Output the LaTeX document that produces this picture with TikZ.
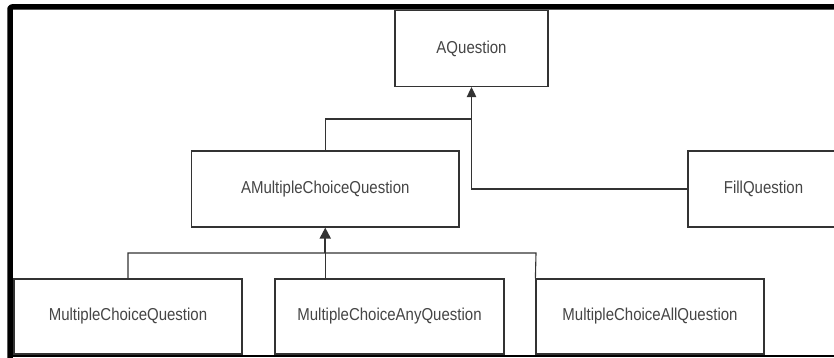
\documentclass[tikz,border=0pt]{standalone}
\usepackage{fontspec}
\usepackage{graphicx}
\setmainfont{Liberation Sans}
\usetikzlibrary{arrows.meta}
\definecolor{boxline}{HTML}{333333}
\definecolor{txt}{HTML}{454545}
\newcommand\clslabel[1]{\scalebox{1}[1.15]{#1}}
\tikzset{
  cls/.style={draw=boxline, line width=1.2pt, fill=white, inner sep=0pt,
    minimum height=76pt, text=txt, font=\fontsize{15pt}{18pt}\selectfont},
  link/.style={draw=boxline, line width=1.1pt},
  inherit/.style={link, -{Triangle[length=10pt,width=9.5pt]}},
  frame/.style={draw=black, line cap=butt, line join=round},
}
\begin{document}
\begin{tikzpicture}[x=1pt,y=-1pt]
\useasboundingbox (0,0) rectangle (834,358);
\clip (0,0) rectangle (834,358);
% frame
\draw[frame, line width=5.5pt, rounded corners=2pt] (840,7) -- (10,7) -- (10,362);
\draw[frame, line width=2pt] (10,355.5) -- (840,355.5);
% classes
\node[cls, minimum width=153pt] (aq) at (471.5,48.5) {\clslabel{AQuestion}};
\node[cls, minimum width=267.5pt] (amc) at (325.25,189) {\clslabel{AMultipleChoiceQuestion}};
\node[cls, minimum width=151pt] (fq) at (763.5,189) {\clslabel{FillQuestion}};
\node[cls, minimum width=228pt, minimum height=75pt] (mcq) at (128,316.5) {\clslabel{MultipleChoiceQuestion}};
\node[cls, minimum width=229pt, minimum height=75pt] (mcany) at (389.5,316.5) {\clslabel{MultipleChoiceAnyQuestion}};
\node[cls, minimum width=228pt, minimum height=75pt] (mcall) at (650,316.5) {\clslabel{MultipleChoiceAllQuestion}};
% junction coordinates
\coordinate (j1) at (325.25,119);
\coordinate (j2) at (471.5,119);
\coordinate (j3) at (471.5,189);
\coordinate (k1) at (128,253);
\coordinate (k2) at (325.25,253);
\coordinate (k3) at (536,253);
\coordinate (anyTop) at (325.25,278.5);
% connectors
\draw[link] (amc.north) -- (j1) -- (j2);
\draw[inherit] (fq.west) -- (j3) -- (aq.south);
\draw[link] (mcq.north) -- (k1) -- (k3) -- (mcall.north west);
\draw[link] (anyTop) -- (k2);
\draw[link, line width=2pt, -{Triangle[length=11pt,width=11pt]}] (k2) -- (amc.south);
\end{tikzpicture}
\end{document}
